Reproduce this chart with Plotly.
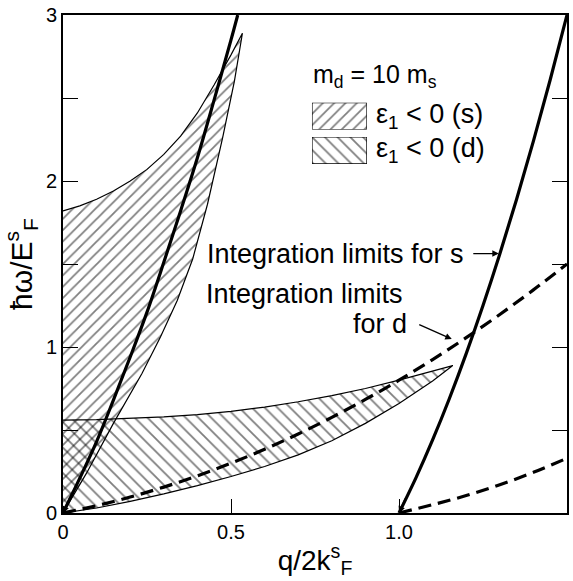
import plotly.graph_objects as go

# ---- data ----
# integration limits for s (solid lines)
s_lim1_x = [0, 0.05, 0.1, 0.15, 0.2, 0.25, 0.3, 0.35, 0.4, 0.45, 0.5, 0.52]
s_lim1_y = [0, 0.21, 0.43, 0.68, 0.94, 1.21, 1.51, 1.82, 2.14, 2.49, 2.85, 3.0]
s_lim2_x = [1.0, 1.05, 1.1, 1.15, 1.2, 1.25, 1.3, 1.35, 1.4, 1.45, 1.5]
s_lim2_y = [0, 0.21, 0.44, 0.69, 0.96, 1.25, 1.56, 1.89, 2.24, 2.61, 3.0]

# integration limits for d (dashed lines)
d_lim1_x = [0, 0.1, 0.2, 0.3, 0.4, 0.5, 0.6, 0.7, 0.8, 0.9, 1.0, 1.1, 1.2, 1.3, 1.4, 1.5]
d_lim1_y = [0, 0.044, 0.096, 0.156, 0.224, 0.3, 0.384, 0.476, 0.576, 0.684, 0.8,
            0.924, 1.056, 1.196, 1.344, 1.5]
d_lim2_x = [1.0, 1.1, 1.2, 1.3, 1.4, 1.5]
d_lim2_y = [0, 0.05, 0.105, 0.17, 0.245, 0.33]

# region eps1 < 0 (s)
s_reg_lower_x = [0, 0.07, 0.15, 0.235, 0.29, 0.34, 0.386, 0.43, 0.475, 0.51, 0.534]
s_reg_lower_y = [0, 0.24, 0.54, 0.84, 1.06, 1.28, 1.53, 1.86, 2.26, 2.6, 2.89]
s_reg_upper_x = [0, 0.05, 0.1, 0.15, 0.2, 0.25, 0.3, 0.35, 0.4, 0.45, 0.5, 0.534]
s_reg_upper_y = [1.82, 1.85, 1.89, 1.94, 2.0, 2.07, 2.16, 2.27, 2.41, 2.58, 2.76, 2.89]

# region eps1 < 0 (d)
d_reg_top_x = [0, 0.1, 0.2, 0.3, 0.4, 0.5, 0.6, 0.7, 0.8, 0.9, 1.0, 1.1, 1.16]
d_reg_top_y = [0.56, 0.563, 0.569, 0.579, 0.593, 0.612, 0.638, 0.67, 0.707, 0.75,
               0.80, 0.855, 0.888]
d_reg_bot_x = [0, 0.1, 0.2, 0.3, 0.4, 0.5, 0.6, 0.7, 0.8, 0.9, 1.0, 1.1, 1.16]
d_reg_bot_y = [0, 0.03, 0.07, 0.115, 0.165, 0.22, 0.28, 0.35, 0.435, 0.54, 0.66, 0.795,
               0.888]

x_tickvals = [0, 0.5, 1.0, 1.5]
x_ticktext = ["0", "0.5", "1.0", "1.5"]
y_tickvals = [0, 0.5, 1, 1.5, 2, 2.5, 3]
y_ticktext = ["0", "", "1", "", "2", "", "3"]

legend_labels = ["ε<sub>1</sub> &lt; 0 (s)", "ε<sub>1</sub> &lt; 0 (d)"]

FONT = "Liberation Sans, Arial, sans-serif"
S_PATTERN = dict(shape="/", size=8, solidity=0.22, fgcolor="black",
                 bgcolor="rgba(255,255,255,0)")
D_PATTERN = dict(shape="\\", size=9, solidity=0.2, fgcolor="black",
                 bgcolor="rgba(255,255,255,0)")

fig = go.Figure()

# d region polygon
fig.add_trace(go.Scatter(
    x=d_reg_bot_x + d_reg_top_x[::-1],
    y=d_reg_bot_y + d_reg_top_y[::-1],
    fill="toself", mode="lines", showlegend=False,
    line=dict(color="black", width=1.2),
    fillcolor="rgba(0,0,0,0)", fillpattern=D_PATTERN,
))

# s region polygon
fig.add_trace(go.Scatter(
    x=s_reg_lower_x + s_reg_upper_x[::-1],
    y=s_reg_lower_y + s_reg_upper_y[::-1],
    fill="toself", mode="lines", showlegend=False,
    line=dict(color="black", width=1.2),
    fillcolor="rgba(0,0,0,0)", fillpattern=S_PATTERN,
))

for xs, ys in [(s_lim1_x, s_lim1_y), (s_lim2_x, s_lim2_y)]:
    fig.add_trace(go.Scatter(x=xs, y=ys, mode="lines", showlegend=False,
                             line=dict(color="black", width=3.2, shape="spline")))
for xs, ys in [(d_lim1_x, d_lim1_y), (d_lim2_x, d_lim2_y)]:
    fig.add_trace(go.Scatter(x=xs, y=ys, mode="lines", showlegend=False,
                             line=dict(color="black", width=3.2, dash="13px,7px",
                                       shape="spline")))

# legend key boxes: unit squares in small overlay axes
key_box_x = [0, 1, 1, 0, 0]
key_box_y = [0, 0, 1, 1, 0]
fig.add_trace(go.Scatter(x=key_box_x, y=key_box_y, xaxis="x2", yaxis="y2",
                         fill="toself", mode="lines", showlegend=False,
                         line=dict(color="black", width=1.2),
                         fillcolor="rgba(0,0,0,0)", fillpattern=S_PATTERN))
fig.add_trace(go.Scatter(x=key_box_x, y=key_box_y, xaxis="x3", yaxis="y3",
                         fill="toself", mode="lines", showlegend=False,
                         line=dict(color="black", width=1.2),
                         fillcolor="rgba(0,0,0,0)", fillpattern=D_PATTERN))

ann_font = dict(family=FONT, size=27, color="black")
fig.add_annotation(x=0.93, y=2.63, text="m<sub>d</sub> = 10 m<sub>s</sub>",
                   showarrow=False, font=dict(family=FONT, size=25, color="black"))
fig.add_annotation(xref="paper", yref="paper", x=0.618, y=0.797, xanchor="left",
                   yanchor="middle", text=legend_labels[0], showarrow=False,
                   font=dict(family=FONT, size=27, color="black"))
fig.add_annotation(xref="paper", yref="paper", x=0.618, y=0.728, xanchor="left",
                   yanchor="middle", text=legend_labels[1], showarrow=False,
                   font=dict(family=FONT, size=27, color="black"))
fig.add_annotation(x=1.2, y=1.563, text="Integration limits for s", xanchor="right",
                   showarrow=False, font=ann_font)
fig.add_annotation(x=1.297, y=1.563, text="", showarrow=True, ax=-27, ay=0,
                   arrowhead=2, arrowsize=1, arrowwidth=1.3, arrowcolor="black")
fig.add_annotation(x=0.42, y=1.317, text="Integration limits", xanchor="left",
                   showarrow=False, font=ann_font)
fig.add_annotation(x=1.03, y=1.138, text="for d", xanchor="right",
                   showarrow=False, font=ann_font)
fig.add_annotation(x=1.157, y=1.048, text="", showarrow=True, ax=-34, ay=-15,
                   arrowhead=2, arrowsize=1, arrowwidth=1.3, arrowcolor="black")
# small arrowheads where the solid limits meet the axis
for x0 in [s_lim1_x[0], s_lim2_x[0]]:
    fig.add_annotation(x=x0, y=0, text="", showarrow=True, ax=7, ay=-16,
                       arrowhead=2, arrowsize=0.9, arrowwidth=1.5, arrowcolor="black")

hidden = dict(range=[0, 1], visible=False, fixedrange=True)
fig.update_layout(
    width=573, height=581,
    margin=dict(l=63, r=4, t=12, b=68),
    paper_bgcolor="white", plot_bgcolor="rgba(0,0,0,0)",
    font=dict(family=FONT, size=20, color="black"),
    showlegend=False,
    xaxis=dict(range=[0, 1.5], tickvals=x_tickvals, ticktext=x_ticktext,
               ticks="inside", ticklen=14, tickwidth=1.3, tickcolor="black",
               showline=True, linewidth=2, linecolor="black", mirror=True,
               showgrid=False, zeroline=False,
               title=dict(text="q/2k<sup>s</sup><sub>F</sub>", font=dict(size=28),
                          standoff=8)),
    yaxis=dict(range=[0, 3], tickvals=y_tickvals, ticktext=y_ticktext,
               ticks="inside", ticklen=15, tickwidth=1.3, tickcolor="black",
               showline=True, linewidth=2, linecolor="black", mirror="ticks",
               showgrid=False, zeroline=False,
               title=dict(text="ħω/E<sup>s</sup><sub>F</sub>", font=dict(size=30),
                          standoff=6)),
    xaxis2=dict(domain=[0.494, 0.603], anchor="y2", **hidden),
    yaxis2=dict(domain=[0.770, 0.824], anchor="x2", **hidden),
    xaxis3=dict(domain=[0.494, 0.603], anchor="y3", **hidden),
    yaxis3=dict(domain=[0.701, 0.755], anchor="x3", **hidden),
)

fig.write_html("out.html")
